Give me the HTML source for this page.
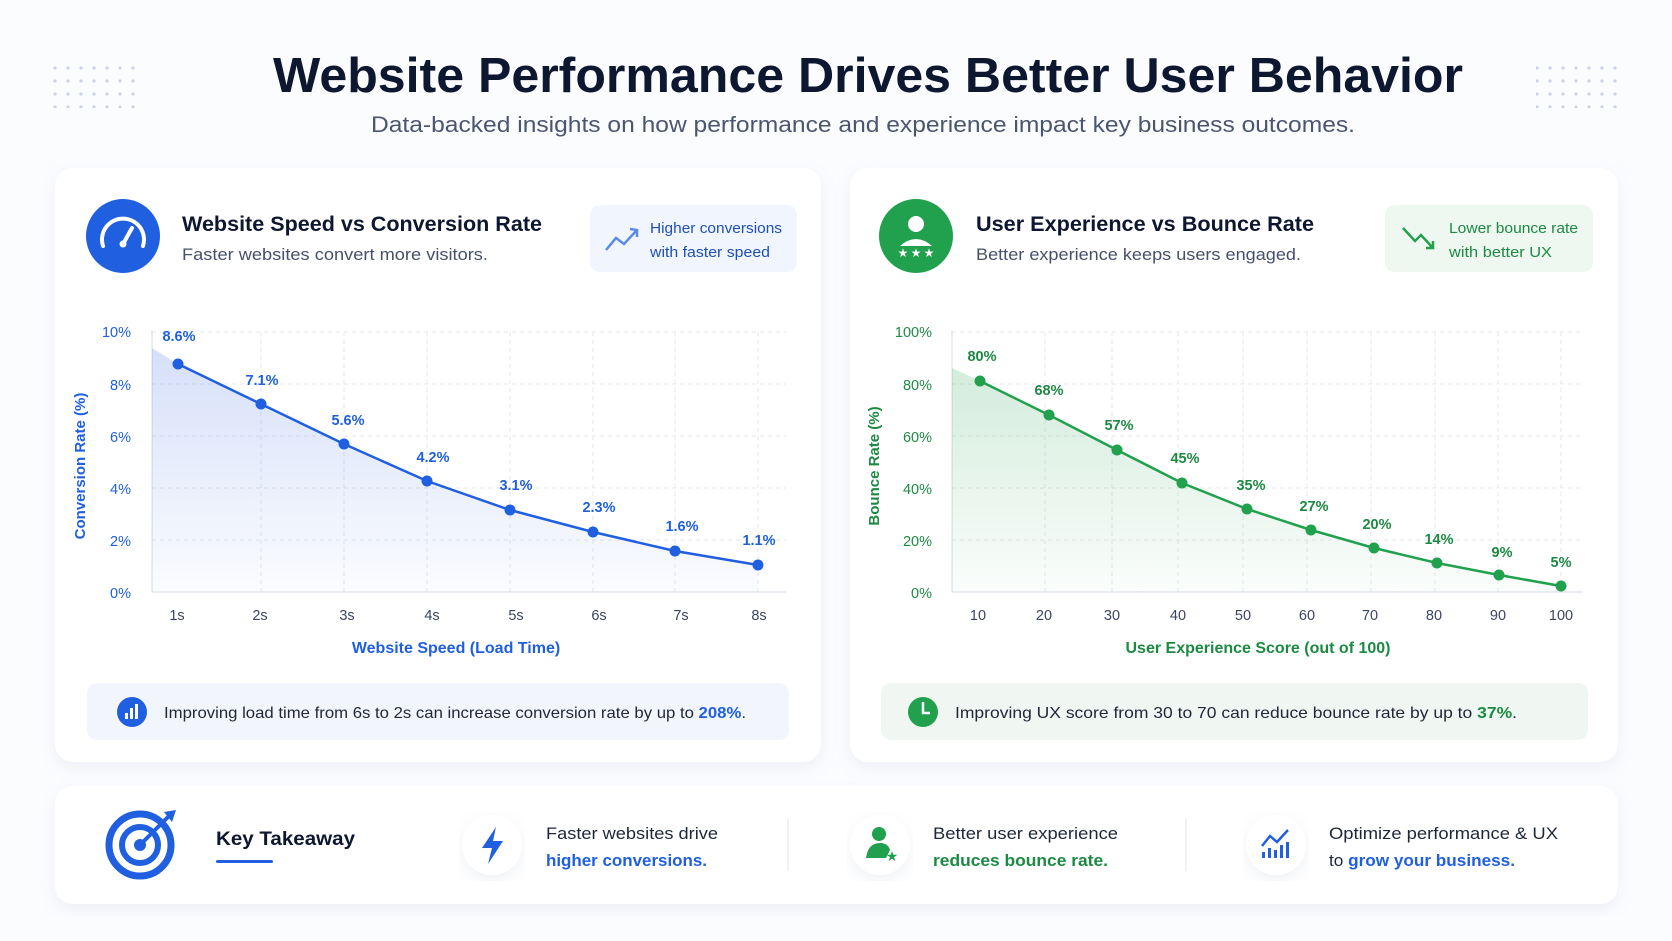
<!DOCTYPE html>
<html><head><meta charset="utf-8"><style>
html,body{margin:0;padding:0;background:#fff;}
svg{display:block;font-family:"Liberation Sans",sans-serif;}
</style></head><body>
<svg width="1672" height="941" viewBox="0 0 1672 941" xmlns="http://www.w3.org/2000/svg">
<defs>
<filter id="sh" x="-5%" y="-5%" width="110%" height="115%"><feDropShadow dx="0" dy="6" stdDeviation="8" flood-color="#8090c0" flood-opacity="0.12"/></filter>
<linearGradient id="gb" x1="0" y1="0" x2="0" y2="1"><stop offset="0" stop-color="#2f62e0" stop-opacity="0.2"/><stop offset="1" stop-color="#2f62e0" stop-opacity="0.02"/></linearGradient>
<linearGradient id="gg" x1="0" y1="0" x2="0" y2="1"><stop offset="0" stop-color="#25a050" stop-opacity="0.2"/><stop offset="1" stop-color="#25a050" stop-opacity="0.02"/></linearGradient>
<pattern id="dots" width="13" height="13" patternUnits="userSpaceOnUse"><circle cx="3" cy="3" r="1.6" fill="#c9d2e6"/></pattern>
</defs>
<rect width="1672" height="941" fill="#fbfcfe"/>
<rect x="50" y="64" width="90" height="44" fill="url(#dots)"/>
<rect x="1536" y="64" width="90" height="44" fill="url(#dots)"/>
<text x="868" y="92" text-anchor="middle" font-size="49" font-weight="bold" fill="#0d1730" textLength="1190" lengthAdjust="spacingAndGlyphs">Website Performance Drives Better User Behavior</text>
<text x="863" y="132" text-anchor="middle" font-size="22" fill="#4a5670" textLength="984" lengthAdjust="spacingAndGlyphs">Data-backed insights on how performance and experience impact key business outcomes.</text>

<!-- cards -->
<rect x="55" y="168" width="766" height="594" rx="18" fill="#fff" filter="url(#sh)"/>
<rect x="850" y="168" width="768" height="594" rx="18" fill="#fff" filter="url(#sh)"/>
<rect x="55" y="786" width="1563" height="118" rx="18" fill="#fff" filter="url(#sh)"/>

<!-- LEFT header -->
<circle cx="123" cy="236" r="37" fill="#1f5fe0"/>
<path d="M103 246 A21 21 0 1 1 143 246" fill="none" stroke="#fff" stroke-width="4" stroke-linecap="round"/>
<line x1="123" y1="244" x2="132" y2="228" stroke="#fff" stroke-width="4" stroke-linecap="round"/>
<circle cx="123" cy="244" r="3.5" fill="#fff"/>
<text x="182" y="231" font-size="21" font-weight="bold" fill="#0d1730" textLength="360" lengthAdjust="spacingAndGlyphs">Website Speed vs Conversion Rate</text>
<text x="182" y="260" font-size="17" fill="#46506a" textLength="306" lengthAdjust="spacingAndGlyphs">Faster websites convert more visitors.</text>
<rect x="590" y="205" width="207" height="67" rx="10" fill="#f1f5fd"/>
<polyline points="606,250 616,238 624,244 637,230" fill="none" stroke="#5a8ae8" stroke-width="2.5"/>
<polyline points="630,229 637,230 637,237" fill="none" stroke="#5a8ae8" stroke-width="2.5"/>
<text x="650" y="233" font-size="14.5" fill="#1f4fb8" textLength="132" lengthAdjust="spacingAndGlyphs">Higher conversions</text>
<text x="650" y="257" font-size="14.5" fill="#1f4fb8" textLength="120" lengthAdjust="spacingAndGlyphs">with faster speed</text>

<!-- LEFT chart grid -->
<g stroke="#e3e7ef" stroke-dasharray="4 4" stroke-width="1">
<line x1="152" y1="332" x2="786" y2="332"/><line x1="152" y1="384" x2="786" y2="384"/><line x1="152" y1="436" x2="786" y2="436"/><line x1="152" y1="488" x2="786" y2="488"/><line x1="152" y1="540" x2="786" y2="540"/>
<line x1="261" y1="332" x2="261" y2="592"/><line x1="344" y1="332" x2="344" y2="592"/><line x1="427" y1="332" x2="427" y2="592"/><line x1="510" y1="332" x2="510" y2="592"/><line x1="593" y1="332" x2="593" y2="592"/><line x1="675" y1="332" x2="675" y2="592"/><line x1="758" y1="332" x2="758" y2="592"/>
</g>
<line x1="152" y1="330" x2="152" y2="592" stroke="#d5dae4"/>
<line x1="152" y1="592" x2="786" y2="592" stroke="#d5dae4"/>
<polygon points="152,348 178,364 261,404 344,444 427,481 510,510 593,532 675,551 758,565 758,592 152,592" fill="url(#gb)"/>
<polyline points="178,364 261,404 344,444 427,481 510,510 593,532 675,551 758,565" fill="none" stroke="#1f5fe0" stroke-width="2.5"/>
<g fill="#1f5fe0"><circle cx="178" cy="364" r="5.5"/><circle cx="261" cy="404" r="5.5"/><circle cx="344" cy="444" r="5.5"/><circle cx="427" cy="481" r="5.5"/><circle cx="510" cy="510" r="5.5"/><circle cx="593" cy="532" r="5.5"/><circle cx="675" cy="551" r="5.5"/><circle cx="758" cy="565" r="5.5"/></g>
<g font-size="14.5" font-weight="bold" fill="#1f5fe0" text-anchor="middle">
<text x="179" y="341">8.6%</text><text x="262" y="385">7.1%</text><text x="348" y="425">5.6%</text><text x="433" y="462">4.2%</text><text x="516" y="490">3.1%</text><text x="599" y="512">2.3%</text><text x="682" y="531">1.6%</text><text x="759" y="545">1.1%</text>
</g>
<g font-size="14.5" fill="#1f5fe0" text-anchor="end">
<text x="131" y="337">10%</text><text x="131" y="390">8%</text><text x="131" y="442">6%</text><text x="131" y="494">4%</text><text x="131" y="546">2%</text><text x="131" y="598">0%</text>
</g>
<g font-size="14.5" fill="#3b4560" text-anchor="middle">
<text x="177" y="620">1s</text><text x="260" y="620">2s</text><text x="347" y="620">3s</text><text x="432" y="620">4s</text><text x="516" y="620">5s</text><text x="599" y="620">6s</text><text x="681" y="620">7s</text><text x="759" y="620">8s</text>
</g>
<text x="456" y="653" text-anchor="middle" font-size="16" font-weight="bold" fill="#1f5fe0">Website Speed (Load Time)</text>
<text transform="translate(85,466) rotate(-90)" text-anchor="middle" font-size="15" font-weight="bold" fill="#1f5fe0">Conversion Rate (%)</text>
<rect x="87" y="683" width="702" height="57" rx="10" fill="#f2f5fb"/>
<circle cx="132" cy="712" r="15" fill="#1f5fe0"/>
<g fill="#fff"><rect x="125" y="713" width="3" height="6"/><rect x="130" y="708" width="3" height="11"/><rect x="135" y="704" width="3" height="15"/></g>
<text x="164" y="718" font-size="16" fill="#1e2638" textLength="582" lengthAdjust="spacingAndGlyphs">Improving load time from 6s to 2s can increase conversion rate by up to <tspan font-weight="bold" fill="#1f5fe0">208%</tspan>.</text>

<!-- RIGHT header -->
<circle cx="916" cy="236" r="37" fill="#21a04d"/>
<circle cx="916" cy="224" r="8" fill="#fff"/>
<path d="M900 246 Q916 232 932 246 Z" fill="#fff"/>
<g fill="#fff" font-size="12" text-anchor="middle"><text x="903" y="257">★</text><text x="916" y="257">★</text><text x="929" y="257">★</text></g>
<text x="976" y="231" font-size="21" font-weight="bold" fill="#0d1730" textLength="338" lengthAdjust="spacingAndGlyphs">User Experience vs Bounce Rate</text>
<text x="976" y="260" font-size="17" fill="#46506a" textLength="325" lengthAdjust="spacingAndGlyphs">Better experience keeps users engaged.</text>
<rect x="1385" y="205" width="208" height="67" rx="10" fill="#eef7f0"/>
<polyline points="1403,228 1415,241 1421,235 1433,248" fill="none" stroke="#21a04d" stroke-width="2.5"/>
<polyline points="1426,248 1433,248 1433,241" fill="none" stroke="#21a04d" stroke-width="2.5"/>
<text x="1449" y="233" font-size="14.5" fill="#1c8a43" textLength="129" lengthAdjust="spacingAndGlyphs">Lower bounce rate</text>
<text x="1449" y="257" font-size="14.5" fill="#1c8a43" textLength="103" lengthAdjust="spacingAndGlyphs">with better UX</text>

<!-- RIGHT chart -->
<g stroke="#e3e7ef" stroke-dasharray="4 4" stroke-width="1">
<line x1="952" y1="332" x2="1583" y2="332"/><line x1="952" y1="384" x2="1583" y2="384"/><line x1="952" y1="436" x2="1583" y2="436"/><line x1="952" y1="488" x2="1583" y2="488"/><line x1="952" y1="540" x2="1583" y2="540"/>
<line x1="1045" y1="332" x2="1045" y2="592"/><line x1="1112" y1="332" x2="1112" y2="592"/><line x1="1178" y1="332" x2="1178" y2="592"/><line x1="1243" y1="332" x2="1243" y2="592"/><line x1="1307" y1="332" x2="1307" y2="592"/><line x1="1371" y1="332" x2="1371" y2="592"/><line x1="1435" y1="332" x2="1435" y2="592"/><line x1="1498" y1="332" x2="1498" y2="592"/><line x1="1561" y1="332" x2="1561" y2="592"/>
</g>
<line x1="952" y1="330" x2="952" y2="592" stroke="#d5dae4"/>
<line x1="952" y1="592" x2="1583" y2="592" stroke="#d5dae4"/>
<polygon points="952,368 980,381 1049,415 1117,450 1182,483 1247,509 1311,530 1374,548 1437,563 1499,575 1561,586 1561,592 952,592" fill="url(#gg)"/>
<polyline points="980,381 1049,415 1117,450 1182,483 1247,509 1311,530 1374,548 1437,563 1499,575 1561,586" fill="none" stroke="#21a04d" stroke-width="2.5"/>
<g fill="#21a04d"><circle cx="980" cy="381" r="5.5"/><circle cx="1049" cy="415" r="5.5"/><circle cx="1117" cy="450" r="5.5"/><circle cx="1182" cy="483" r="5.5"/><circle cx="1247" cy="509" r="5.5"/><circle cx="1311" cy="530" r="5.5"/><circle cx="1374" cy="548" r="5.5"/><circle cx="1437" cy="563" r="5.5"/><circle cx="1499" cy="575" r="5.5"/><circle cx="1561" cy="586" r="5.5"/></g>
<g font-size="14.5" font-weight="bold" fill="#1c8a43" text-anchor="middle">
<text x="982" y="361">80%</text><text x="1049" y="395">68%</text><text x="1119" y="430">57%</text><text x="1185" y="463">45%</text><text x="1251" y="490">35%</text><text x="1314" y="511">27%</text><text x="1377" y="529">20%</text><text x="1439" y="544">14%</text><text x="1502" y="557">9%</text><text x="1561" y="567">5%</text>
</g>
<g font-size="14.5" fill="#1c8a43" text-anchor="end">
<text x="932" y="337">100%</text><text x="932" y="390">80%</text><text x="932" y="442">60%</text><text x="932" y="494">40%</text><text x="932" y="546">20%</text><text x="932" y="598">0%</text>
</g>
<g font-size="14.5" fill="#3b4560" text-anchor="middle">
<text x="978" y="620">10</text><text x="1044" y="620">20</text><text x="1112" y="620">30</text><text x="1178" y="620">40</text><text x="1243" y="620">50</text><text x="1307" y="620">60</text><text x="1370" y="620">70</text><text x="1434" y="620">80</text><text x="1498" y="620">90</text><text x="1561" y="620">100</text>
</g>
<text x="1258" y="653" text-anchor="middle" font-size="16" font-weight="bold" fill="#1c8a43">User Experience Score (out of 100)</text>
<text transform="translate(879,466) rotate(-90)" text-anchor="middle" font-size="15" font-weight="bold" fill="#1c8a43">Bounce Rate (%)</text>
<rect x="881" y="683" width="707" height="57" rx="10" fill="#f0f7f2"/>
<circle cx="923" cy="712" r="15" fill="#21a04d"/>
<path d="M923 702 V713 H930" fill="none" stroke="#fff" stroke-width="2.5"/>
<text x="955" y="718" font-size="16" fill="#1e2638" textLength="562" lengthAdjust="spacingAndGlyphs">Improving UX score from 30 to 70 can reduce bounce rate by up to <tspan font-weight="bold" fill="#1c8a43">37%</tspan>.</text>

<!-- bottom -->
<circle cx="140" cy="845" r="31" fill="none" stroke="#1f5fe0" stroke-width="7"/>
<circle cx="140" cy="845" r="18" fill="none" stroke="#1f5fe0" stroke-width="6"/>
<circle cx="140" cy="845" r="6" fill="#1f5fe0"/>
<line x1="142" y1="843" x2="170" y2="815" stroke="#1f5fe0" stroke-width="4"/>
<path d="M164 812 L176 810 L172 822 Z" fill="#1f5fe0"/>
<text x="216" y="845" font-size="19" font-weight="bold" fill="#0d1730" textLength="139" lengthAdjust="spacingAndGlyphs">Key Takeaway</text>
<rect x="216" y="860" width="57" height="3" rx="1.5" fill="#1f5fe0"/>

<circle cx="492" cy="845" r="30" fill="#fff" filter="url(#sh)"/>
<path d="M496 827 L482 848 L492 848 L488 864 L503 841 L493 841 Z" fill="#1f5fe0"/>
<text x="546" y="839" font-size="17" fill="#1e2638" textLength="172" lengthAdjust="spacingAndGlyphs">Faster websites drive</text>
<text x="546" y="866" font-size="17" font-weight="bold" fill="#1f5fe0" textLength="161" lengthAdjust="spacingAndGlyphs">higher conversions.</text>
<line x1="788" y1="818" x2="788" y2="871" stroke="#e1e5ec"/>

<circle cx="880" cy="845" r="30" fill="#fff" filter="url(#sh)"/>
<circle cx="879" cy="834" r="7" fill="#21a04d"/>
<path d="M866 858 Q868 843 880 843 Q888 843 890 850 L886 858 Z" fill="#21a04d"/>
<text x="892" y="861" font-size="14" fill="#21a04d" text-anchor="middle">★</text>
<text x="933" y="839" font-size="17" fill="#1e2638" textLength="185" lengthAdjust="spacingAndGlyphs">Better user experience</text>
<text x="933" y="866" font-size="17" font-weight="bold" fill="#1c8a43" textLength="175" lengthAdjust="spacingAndGlyphs">reduces bounce rate.</text>
<line x1="1186" y1="818" x2="1186" y2="871" stroke="#e1e5ec"/>

<circle cx="1276" cy="845" r="30" fill="#fff" filter="url(#sh)"/>
<g fill="#1f5fe0"><rect x="1262" y="852" width="3" height="6"/><rect x="1268" y="848" width="3" height="10"/><rect x="1274" y="850" width="3" height="8"/><rect x="1280" y="845" width="3" height="13"/><rect x="1286" y="842" width="3" height="16"/></g>
<polyline points="1262,846 1270,836 1277,842 1288,830" fill="none" stroke="#1f5fe0" stroke-width="2.5"/>
<text x="1329" y="839" font-size="17" fill="#1e2638" textLength="229" lengthAdjust="spacingAndGlyphs">Optimize performance &amp; UX</text>
<text x="1329" y="866" font-size="17" fill="#1e2638" textLength="186" lengthAdjust="spacingAndGlyphs">to <tspan font-weight="bold" fill="#1f5fe0">grow your business.</tspan></text>
</svg>
</body></html>
